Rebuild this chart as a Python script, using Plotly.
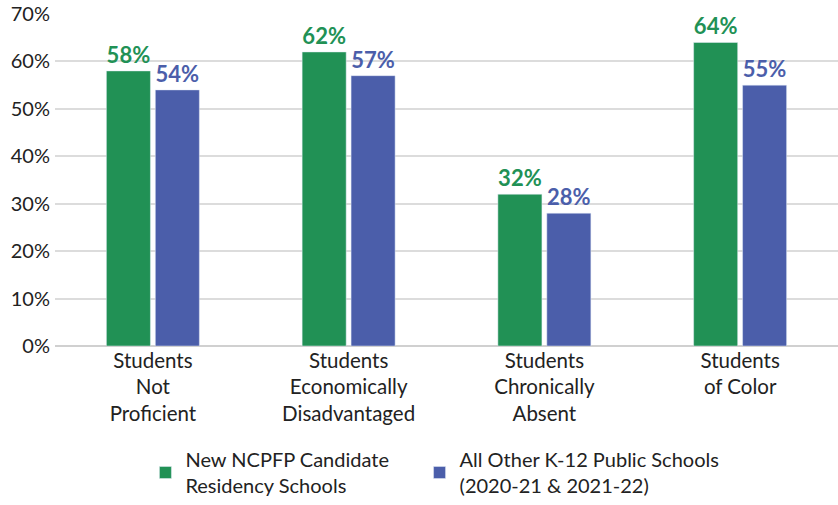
import plotly.graph_objects as go

categories = ["Students<br>Not<br>Proficient", "Students<br>Economically<br>Disadvantaged",
              "Students<br>Chronically<br>Absent", "Students<br>of Color"]
ncpfp = [58, 62, 32, 64]
others = [54, 57, 28, 55]
series_names = ["New NCPFP Candidate" + "&nbsp;" * 5 + "<br>Residency Schools",
                "All Other K-12 Public Schools<br>(2020-21 & 2021-22)"]
green = "#219155"
blue = "#4B5EAA"

fig = go.Figure()
for vals, name, col in [(ncpfp, series_names[0], green), (others, series_names[1], blue)]:
    fig.add_bar(x=categories, y=vals, name=name, marker_color=col,
                text=[f"{v}%" for v in vals], textposition="outside", cliponaxis=False,
                constraintext="none", textangle=0,
                textfont=dict(color=col, size=22, family="Lato", weight="bold"))

fig.update_layout(
    width=838, height=505,
    margin=dict(l=55, r=0, t=14, b=159),
    paper_bgcolor="white", plot_bgcolor="white",
    barmode="group", bargap=0.5, bargroupgap=0.1,
    font=dict(family="Lato", size=20, color="#222"),
    showlegend=True,
    legend=dict(orientation="h", x=0.519, xanchor="center", xref="container",
                y=-0.01, yanchor="bottom", yref="container",
                font=dict(size=20), traceorder="normal"),
)
fig.update_yaxes(range=[0, 70], dtick=10, ticksuffix="%", showgrid=True, automargin=False,
                 gridcolor="#dcdcdc", gridwidth=1.5, zeroline=True, zerolinecolor="#d0d0d0",
                 zerolinewidth=1.5, tickfont=dict(size=20), ticks="", showline=False,
                 ticklabelstandoff=4)
fig.update_xaxes(tickfont=dict(size=20.5), showline=False, ticks="", automargin=False)
fig.write_html("out.html", config={"displayModeBar": False},
               post_script="document.body.style.margin='0';document.body.style.padding='0';")
